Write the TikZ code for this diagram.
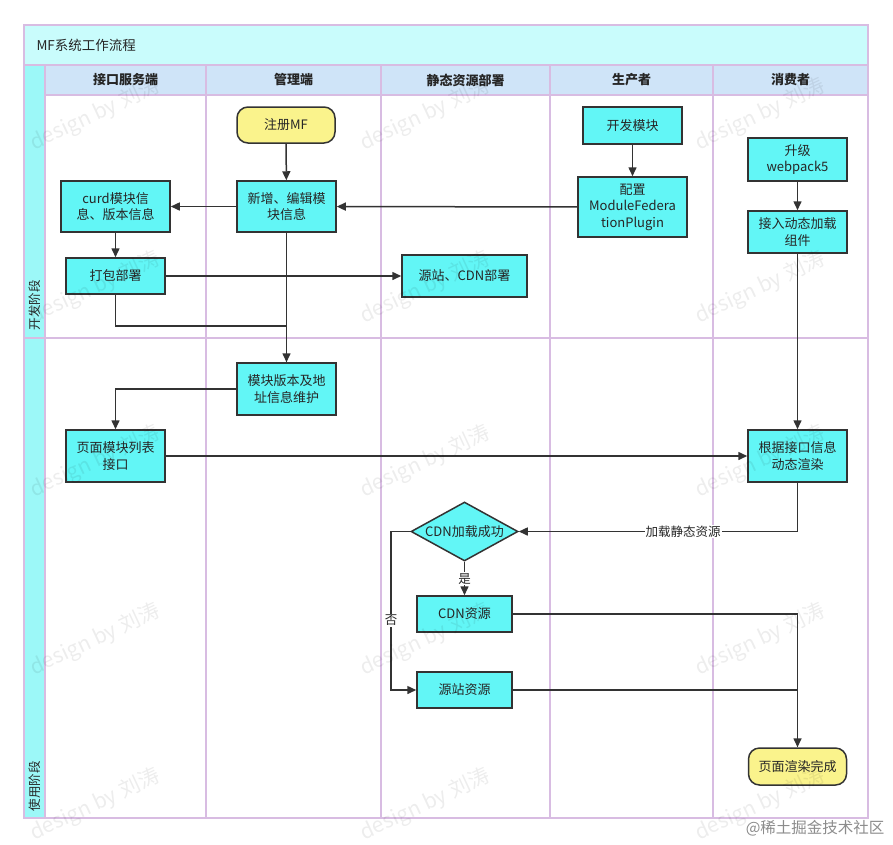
\documentclass[tikz,border=0pt]{standalone}
\usepackage{fontspec}
\setmainfont{Noto Sans CJK SC}
\usetikzlibrary{arrows.meta,shapes.geometric}
\definecolor{lanec}{HTML}{D8BCE2}
\definecolor{titlec}{HTML}{C9FCFC}
\definecolor{headc}{HTML}{CFE4F8}
\definecolor{stripc}{HTML}{9CF8F8}
\definecolor{procc}{HTML}{62F6F6}
\definecolor{termc}{HTML}{FAF38C}
\definecolor{linec}{HTML}{333333}
\tikzset{
  base/.style={draw=linec, line width=1.5pt, inner sep=0pt, align=center,
    font=\fontsize{13}{16.5}\selectfont, text=black!85},
  proc/.style={base, fill=procc, rectangle},
  term/.style={base, fill=termc, rounded corners=11pt},
  dec/.style={base, fill=procc, diamond, aspect=1.8},
  conn/.style={draw=linec, line width=1.5pt, -{Triangle[length=9pt,width=8pt]}},
  plain/.style={draw=linec, line width=1.5pt},
  lbl/.style={fill=white, inner sep=1pt, font=\fontsize{12.5}{14}\selectfont, text=black!85},
  hdr/.style={font=\fontsize{13}{15}\selectfont\bfseries, text=black!85},
  lane/.style={draw=lanec, line width=1.6pt},
  wm/.style={rotate=25, text=black, opacity=0.07, font=\fontsize{21}{24}\selectfont}
}
\begin{document}
\begin{tikzpicture}[x=1pt,y=-1pt]
\useasboundingbox (0,0) rectangle (893,844);
\fill[white] (0,0) rectangle (893,844);
% swimlane frame
\fill[titlec] (24,25) rectangle (868,65);
\fill[headc] (45,65) rectangle (868,95);
\fill[stripc] (24,65) rectangle (45,818);
\draw[lane] (24,65) -- (868,65);
\draw[lane] (45,95) -- (868,95);
\draw[lane] (24,338) -- (868,338);
\foreach \x in {45,206,381,550,713} \draw[lane] (\x,65) -- (\x,818);
\draw[lane] (24,25) rectangle (868,818);
\node[anchor=west, font=\fontsize{13.5}{15}\selectfont, text=black!85] (title) at (33,45) {MF系统工作流程};
\node[hdr] (h1) at (125.5,80) {接口服务端};
\node[hdr] (h2) at (293.5,80) {管理端};
\node[hdr] (h3) at (465.5,80) {静态资源部署};
\node[hdr] (h4) at (631.5,80) {生产者};
\node[hdr] (h5) at (790.5,80) {消费者};
\node[rotate=90, anchor=west, font=\fontsize{12.5}{14}\selectfont, text=black!85] (r1) at (34.5,334) {开发阶段};
\node[rotate=90, anchor=west, font=\fontsize{12.5}{14}\selectfont, text=black!85] (r2) at (34.5,815) {使用阶段};
% nodes
\node[term, minimum width=98pt, minimum height=36pt] (reg) at (286,125) {注册MF};
\node[proc, minimum width=99pt, minimum height=51pt] (edit) at (286.5,206.5) {新增、编辑模\\块信息};
\node[proc, minimum width=109pt, minimum height=51pt] (curd) at (115.5,206.5) {curd模块信\\息、版本信息};
\node[proc, minimum width=99pt, minimum height=36pt] (pack) at (115.5,276) {打包部署};
\node[proc, minimum width=125pt, minimum height=42pt] (cdnd) at (464.5,276) {源站、CDN部署};
\node[proc, minimum width=99pt, minimum height=37pt] (dev) at (632.5,125.5) {开发模块};
\node[proc, minimum width=109pt, minimum height=60pt] (cfg) at (632.5,207) {配置\\ModuleFedera\\tionPlugin};
\node[proc, minimum width=99pt, minimum height=43pt] (wp) at (797.5,159.5) {升级\\webpack5};
\node[proc, minimum width=99pt, minimum height=42pt] (dyn) at (797.5,232) {接入动态加载\\组件};
\node[proc, minimum width=99pt, minimum height=52pt] (maint) at (286.5,389) {模块版本及地\\址信息维护};
\node[proc, minimum width=99pt, minimum height=52pt] (list) at (115.5,456) {页面模块列表\\接口};
\node[proc, minimum width=99pt, minimum height=52pt] (rend) at (797.5,456) {根据接口信息\\动态渲染};
\node[dec, minimum width=107pt, minimum height=59pt] (dia) at (464.5,531.5) {CDN加载成功};
\node[proc, minimum width=95pt, minimum height=36pt] (cdn) at (464.5,614) {CDN资源};
\node[proc, minimum width=95pt, minimum height=36pt] (src) at (464.5,690) {源站资源};
\node[term, minimum width=98pt, minimum height=37pt] (done) at (797.5,766.5) {页面渲染完成};
\coordinate (packc) at (115.5,326);
\coordinate (noc) at (391,531.5);
% connectors
\draw[conn] (reg) -- (edit);
\draw[conn] (edit) -- (curd);
\draw[conn] (curd) -- (pack);
\draw[conn] (cfg) -- (edit);
\draw[conn] (dev) -- (cfg);
\draw[conn] (wp) -- (dyn);
\draw[conn] (pack) -- (cdnd);
\draw[conn] (edit) -- (maint);
\draw[plain] (pack) -- (packc) -| (maint.north);
\draw[conn] (dyn) -- (rend);
\draw[conn] (maint.west) -| (list.north);
\draw[conn] (list) -- (rend);
\draw[conn] (rend.south) |- node[lbl, pos=0.705] {加载静态资源} (dia.east);
\draw[conn] (dia.south) -- node[lbl] {是} (cdn.north);
\draw[conn] (dia.west) -- (noc) |- node[lbl, pos=0.28] {否} (src.west);
\draw[conn] (cdn.east) -| (done.north);
\draw[plain] (src.east) -| (done.north);
% watermarks
\foreach \x in {95,425,760} {
  \foreach \y in {115,288,462,640,805} {
    \node[wm] at (\x,\y) {design by 刘涛};
  }
}
\node[anchor=east, text=black!45, font=\fontsize{15.5}{17}\selectfont] (credit) at (888,828) {@稀土掘金技术社区};
\end{tikzpicture}
\end{document}
